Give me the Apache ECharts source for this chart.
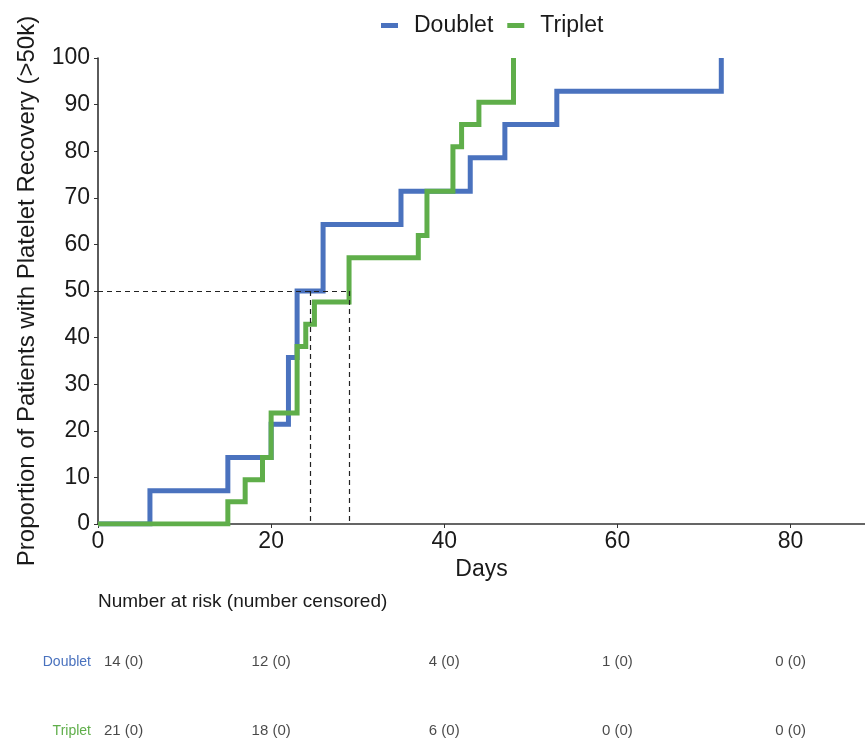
<!DOCTYPE html>
<html>
<head>
<meta charset="utf-8">
<script src="https://cdn.jsdelivr.net/npm/echarts@6/dist/echarts.min.js"></script>
<style>
  html, body { margin: 0; padding: 0; background: #fff; }
  #chart { width: 865px; height: 743px; }
</style>
</head>
<body>
<div id="chart"></div>
<script>
// ── Datos ────────────────────────────────────────────────────────────────
const doubletDays  = [0, 6, 15, 20, 22, 23, 26, 35, 43, 47, 53, 72];
const doubletProp  = [0, 7.14, 14.29, 21.43, 35.71, 50, 64.29, 71.43, 78.57, 85.71, 92.86, 100];
const tripletDays  = [0, 15, 17, 19, 20, 23, 24, 25, 29, 37, 38, 41, 42, 44, 48];
const tripletProp  = [0, 4.76, 9.52, 14.29, 23.81, 38.1, 42.86, 47.62, 57.14, 61.9, 71.43, 80.95, 85.71, 90.48, 100];

const medianLevel  = 50;
const medianDays   = [24.5, 29];   // Doublet, Triplet

const riskDays         = [0, 20, 40, 60, 80];
const doubletAtRisk    = [14, 12, 4, 1, 0];
const doubletCensored  = [0, 0, 0, 0, 0];
const tripletAtRisk    = [21, 18, 6, 0, 0];
const tripletCensored  = [0, 0, 0, 0, 0];

const groups = ['Doublet', 'Triplet'];

// ── Paleta ───────────────────────────────────────────────────────────────
const COLORS = { Doublet: '#4A72BE', Triplet: '#5FAE4A' };
const FONT = 'Liberation Sans, Arial, Helvetica, sans-serif';
const INK = '#1a1a1a';
const X_MAX = 88.6;

function _pairs(xs, ys) { return xs.map((x, i) => [x, ys[i]]); }

function _riskSeries(name, atRisk, censored) {
  return {
    name: 'risk-' + name,
    type: 'scatter',
    xAxisIndex: 1,
    yAxisIndex: 1,
    symbolSize: 0,
    silent: true,
    data: riskDays.map((d, i) => ({
      value: [d, name],
      n: atRisk[i],
      c: censored[i],
      label: i === 0 ? { align: 'left', offset: [6, 0] } : undefined,
    })),
    label: {
      show: true,
      position: 'inside',
      color: INK,
      fontSize: 15,
      fontFamily: FONT,
      formatter: (p) => `${p.data.n} (${p.data.c})`,
    },
  };
}

const chart = echarts.init(document.getElementById('chart'), null, { renderer: 'canvas' });

chart.setOption({
  animation: false,
  backgroundColor: '#fff',
  textStyle: { fontFamily: FONT },
  title: {
    text: 'Number at risk (number censored)',
    left: 98,
    top: 592,
    padding: 0,
    textStyle: { fontFamily: FONT, fontSize: 19, fontWeight: 'normal', color: INK },
  },
  legend: {
    data: groups,
    left: 376,
    top: 9,
    icon: 'rect',
    itemWidth: 17,
    itemHeight: 5,
    itemGap: 14,
    textStyle: { fontFamily: FONT, fontSize: 23, color: INK, padding: [0, 0, 0, 11] },
  },
  grid: [
    { left: 98, right: 0, top: 58, bottom: 219 },
    { left: 98, right: 0, top: 662, height: 69 },
  ],
  xAxis: [
    {
      type: 'value',
      gridIndex: 0,
      min: 0,
      max: X_MAX,
      interval: 20,
      name: 'Days',
      nameLocation: 'middle',
      nameGap: 31,
      nameTextStyle: { fontFamily: FONT, fontSize: 23, color: INK },
      axisLine: { show: true, lineStyle: { color: '#333', width: 1.6 } },
      axisTick: { show: true, length: 4, lineStyle: { color: '#333' } },
      axisLabel: { fontSize: 23, color: INK, margin: 6, showMaxLabel: false },
      splitLine: { show: false },
    },
    {
      type: 'value',
      gridIndex: 1,
      min: 0,
      max: X_MAX,
      show: false,
    },
  ],
  yAxis: [
    {
      type: 'value',
      gridIndex: 0,
      min: 0,
      max: 100,
      interval: 10,
      name: 'Proportion of Patients with Platelet Recovery (>50k)',
      nameLocation: 'middle',
      nameGap: 59,
      nameTextStyle: { fontFamily: FONT, fontSize: 24, color: INK },
      axisLine: { show: true, lineStyle: { color: '#333', width: 1.6 } },
      axisTick: { show: true, length: 4, lineStyle: { color: '#333' } },
      axisLabel: { fontSize: 23, color: INK, margin: 8 },
      splitLine: { show: false },
    },
    {
      type: 'category',
      gridIndex: 1,
      inverse: true,
      boundaryGap: false,
      data: groups.map(g => ({ value: g, textStyle: { color: COLORS[g] } })),
      axisLine: { show: false },
      axisTick: { show: false },
      axisLabel: { fontSize: 14, fontFamily: FONT, margin: 7 },
      splitLine: { show: false },
    },
  ],
  series: [
    {
      name: 'median',
      type: 'line',
      data: [],
      silent: true,
      markLine: {
        silent: true,
        symbol: 'none',
        label: { show: false },
        lineStyle: { color: '#222', width: 1.2, type: [5, 4] },
        data: [
          [{ coord: [0, medianLevel] }, { coord: [Math.max(...medianDays), medianLevel] }],
          ...medianDays.map(d => [{ coord: [d, medianLevel] }, { coord: [d, 0] }]),
        ],
      },
    },
    {
      name: 'Doublet',
      type: 'line',
      step: 'end',
      data: _pairs(doubletDays, doubletProp),
      showSymbol: false,
      symbol: 'none',
      color: COLORS.Doublet,
      lineStyle: { color: COLORS.Doublet, width: 5, join: 'miter' },
      z: 3,
    },
    {
      name: 'Triplet',
      type: 'line',
      step: 'end',
      data: _pairs(tripletDays, tripletProp),
      showSymbol: false,
      symbol: 'none',
      color: COLORS.Triplet,
      lineStyle: { color: COLORS.Triplet, width: 5, join: 'miter' },
      z: 4,
    },
    _riskSeries('Doublet', doubletAtRisk, doubletCensored),
    _riskSeries('Triplet', tripletAtRisk, tripletCensored),
  ],
});

window.addEventListener('resize', () => chart.resize());
</script>
</body>
</html>
